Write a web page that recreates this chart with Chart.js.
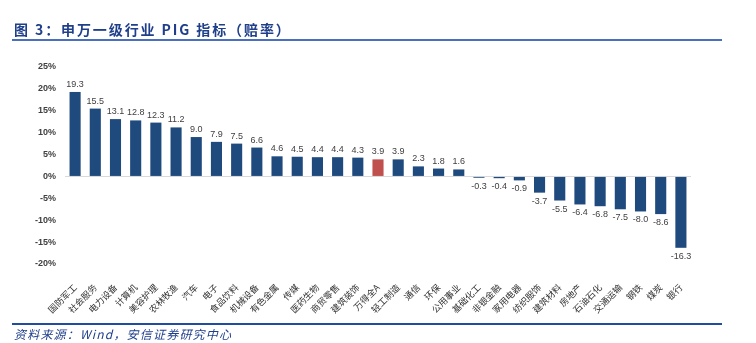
<!DOCTYPE html>
<html lang="zh-CN">
<head>
<meta charset="UTF-8">
<title>申万一级行业 PIG 指标（赔率）</title>
<style>
    body { margin: 0; background: #ffffff; }
    #wrap { position: relative; width: 756px; height: 343px; overflow: hidden; }
    #chart { position: absolute; left: 0; top: 0; }
    .title {
        position: absolute; left: 14px; top: 19px;
        font-family: "Noto Sans CJK SC", sans-serif; font-weight: bold;
        font-size: 14px; color: #1f3f8a; letter-spacing: 1.9px; white-space: nowrap;
    }
    .line { position: absolute; left: 12px; width: 710px; height: 2px; }
    .top { top: 39px; background: #4a6fbf; }
    .bottom { top: 323px; background: #1f4ea0; }
    .source {
        position: absolute; left: 14px; top: 325px;
        font-family: "Noto Sans CJK SC", sans-serif; font-style: italic;
        font-size: 12px; color: #1f3f8a; letter-spacing: 1.2px; white-space: nowrap;
    }
</style>
</head>
<body>
<div id="wrap">
    <canvas id="chart" width="756" height="343"></canvas>
    <div class="title">图 3：申万一级行业 PIG 指标（赔率）</div>
    <div class="line top"></div>
    <div class="line bottom"></div>
    <div class="source">资料来源：Wind，安信证券研究中心</div>
</div>

<script src="https://cdn.jsdelivr.net/npm/chart.js"></script>
<script>
// 行业名称
var industries = ['国防军工', '社会服务', '电力设备', '计算机', '美容护理', '农林牧渔', '汽车', '电子',
    '食品饮料', '机械设备', '有色金属', '传媒', '医药生物', '商贸零售', '建筑装饰', '万得全A',
    '轻工制造', '通信', '环保', '公用事业', '基础化工', '非银金融', '家用电器', '纺织服饰',
    '建筑材料', '房地产', '石油石化', '交通运输', '钢铁', '煤炭', '银行'];
// PIG 指标（%）
var pigValues = [19.3, 15.5, 13.1, 12.8, 12.3, 11.2, 9.0, 7.9, 7.5, 6.6, 4.6, 4.5, 4.4, 4.4, 4.3, 3.9,
    3.9, 2.3, 1.8, 1.6, -0.3, -0.4, -0.9, -3.7, -5.5, -6.4, -6.8, -7.5, -8.0, -8.6, -16.3];
// 纵轴刻度
var yTicks = [-20, -15, -10, -5, 0, 5, 10, 15, 20, 25];
var highlight = '万得全A';

var barColors = industries.map(function (n) { return n === highlight ? '#c0504d' : '#1f4a7e'; });

// 柱子上的数值
var valueLabels = {
    id: 'valueLabels',
    afterDatasetsDraw: function (chart) {
        var ctx = chart.ctx;
        var meta = chart.getDatasetMeta(0);
        ctx.save();
        ctx.font = '9px "Liberation Sans", Arial, sans-serif';
        ctx.fillStyle = '#404040';
        ctx.textAlign = 'center';
        meta.data.forEach(function (bar, i) {
            var v = pigValues[i];
            if (v >= 0) {
                ctx.textBaseline = 'bottom';
                ctx.fillText(v.toFixed(1), bar.x, bar.y - 3);
            } else {
                ctx.textBaseline = 'top';
                ctx.fillText(v.toFixed(1), bar.x, bar.y + 4);
            }
        });
        ctx.restore();
    }
};

new Chart(document.getElementById('chart'), {
    type: 'bar',
    data: {
        labels: industries,
        datasets: [{
            data: pigValues,
            backgroundColor: barColors,
            barPercentage: 0.55,
            categoryPercentage: 1.0
        }]
    },
    options: {
        responsive: false,
        animation: false,
        layout: { padding: { left: 0, top: 67, right: 65, bottom: 0 } },
        plugins: {
            legend: { display: false },
            tooltip: { enabled: false }
        },
        scales: {
            x: {
                grid: { display: false },
                border: { display: false },
                afterFit: function (scale) { scale.height = 79; },
                ticks: {
                    autoSkip: false,
                    minRotation: 45,
                    maxRotation: 45,
                    padding: 10,
                    color: '#333333',
                    font: { family: '"Noto Sans CJK SC", sans-serif', size: 9 }
                }
            },
            y: {
                min: -20,
                max: 25,
                afterFit: function (scale) { scale.width = 65; },
                afterBuildTicks: function (scale) {
                    scale.ticks = yTicks.map(function (v) { return { value: v }; });
                },
                border: { display: false },
                grid: {
                    drawTicks: false,
                    color: function (c) { return c.tick && c.tick.value === 0 ? '#d9d9d9' : 'rgba(0,0,0,0)'; }
                },
                ticks: {
                    padding: 9,
                    color: '#404040',
                    font: { family: '"Liberation Sans", Arial, sans-serif', size: 9, weight: 'bold' },
                    callback: function (v) { return v + '%'; }
                }
            }
        }
    },
    plugins: [valueLabels]
});
</script>
</body>
</html>
